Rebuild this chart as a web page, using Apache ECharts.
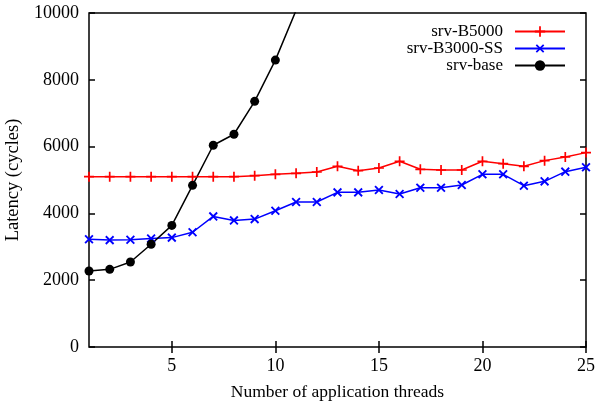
<!DOCTYPE html>
<html><head><meta charset="utf-8">
<script src="https://cdn.jsdelivr.net/npm/echarts@6/dist/echarts.min.js"></script>
<style>html,body{margin:0;padding:0;background:#fff}#c{width:597px;height:406px}</style>
</head><body><div id="c"></div>
<script>
const threads = [1,2,3,4,5,6,7,8,9,10,11,12,13,14,15,16,17,18,19,20,21,22,23,24,25];
const b5000 = [5100,5100,5100,5100,5100,5100,5100,5100,5130,5170,5200,5240,5410,5280,5360,5560,5320,5300,5300,5560,5490,5410,5580,5690,5820];
const b3000ss = [3225,3200,3210,3250,3275,3435,3910,3790,3830,4080,4340,4340,4630,4630,4700,4580,4770,4770,4850,5170,5170,4830,4960,5250,5380];
const base = [2275,2325,2545,3075,3640,4840,6040,6370,7355,8590,10080,11600];
const xTicks = [5,10,15,20,25];
const yTicks = [0,2000,4000,6000,8000,10000];

const FONT = "'Liberation Serif','Times New Roman',serif";
const plusPath = 'path://M4.15,0H5.85V4.15H10V5.85H5.85V10H4.15V5.85H0V4.15H4.15Z';
const zip = (xs, ys) => ys.map((v, i) => [xs[i], v]);

const chart = echarts.init(document.getElementById('c'));
const axisCommon = {
  type: 'value', min: 1, max: 25,
  axisLine: {show: false},
  splitLine: {show: false},
};
chart.setOption({
  animation: false,
  textStyle: {fontFamily: FONT, color: '#000'},
  grid: {left: 89, right: 11, top: 13, bottom: 59, outerBoundsMode: 'none', containLabel: false,
         show: true, borderColor: '#000', borderWidth: 1.5, backgroundColor: 'transparent'},
  legend: [
    {data: ['srv-B5000'], top: 23},
    {data: ['srv-B3000-SS'], top: 40},
    {data: ['srv-base'], top: 57}
  ].map(l => Object.assign({
    right: 31, orient: 'vertical', align: 'right', itemWidth: 50, itemHeight: 13, padding: 0,
    textStyle: {fontFamily: FONT, fontSize: 17, color: '#000', padding: [0, 7, 0, 0]},
    selectedMode: false
  }, l)),
  xAxis: [
    Object.assign({}, axisCommon, {
      position: 'bottom',
      name: 'Number of application threads', nameLocation: 'middle', nameGap: 36,
      nameTextStyle: {fontFamily: FONT, fontSize: 17.5, color: '#000'},
      axisTick: {show: true, inside: true, length: 6, customValues: xTicks, lineStyle: {color: '#000', width: 1.5}},
      axisLabel: {show: true, customValues: xTicks, margin: 10, fontFamily: FONT, fontSize: 18, color: '#000'}
    }),
    Object.assign({}, axisCommon, {
      position: 'top',
      axisTick: {show: true, inside: true, length: 6, customValues: xTicks, lineStyle: {color: '#000', width: 1.5}},
      axisLabel: {show: false}
    })
  ],
  yAxis: [
    {
      type: 'value', min: 0, max: 10000, interval: 2000, position: 'left',
      name: 'Latency (cycles)', nameLocation: 'middle', nameGap: 62, nameRotate: 90,
      nameTextStyle: {fontFamily: FONT, fontSize: 18.5, color: '#000'},
      axisLine: {show: false}, splitLine: {show: false},
      axisTick: {show: true, inside: true, length: 6, lineStyle: {color: '#000', width: 1.5}},
      axisLabel: {margin: 10, fontFamily: FONT, fontSize: 18, color: '#000', formatter: v => yTicks.includes(v) ? String(v) : ''}
    },
    {
      type: 'value', min: 0, max: 10000, interval: 2000, position: 'right',
      axisLine: {show: false}, splitLine: {show: false},
      axisTick: {show: true, inside: true, length: 6, lineStyle: {color: '#000', width: 1.5}},
      axisLabel: {show: false}
    }
  ],
  series: [
    {
      name: 'srv-B5000', type: 'line', data: zip(threads, b5000),
      symbol: plusPath, symbolSize: 10, showAllSymbol: true,
      lineStyle: {color: '#ff0000', width: 1.5}, itemStyle: {color: '#ff0000'}, color: '#ff0000'
    },
    {
      name: 'srv-B3000-SS', type: 'line', data: zip(threads, b3000ss),
      symbol: plusPath, symbolSize: 11, symbolRotate: 45, showAllSymbol: true,
      lineStyle: {color: '#0000ff', width: 1.5}, itemStyle: {color: '#0000ff'}, color: '#0000ff'
    },
    {
      name: 'srv-base', type: 'line', data: zip(threads, base),
      symbol: 'circle', symbolSize: 9, showAllSymbol: true, clip: true,
      lineStyle: {color: '#000', width: 1.5}, itemStyle: {color: '#000'}, color: '#000'
    }
  ]
});
</script></body></html>
